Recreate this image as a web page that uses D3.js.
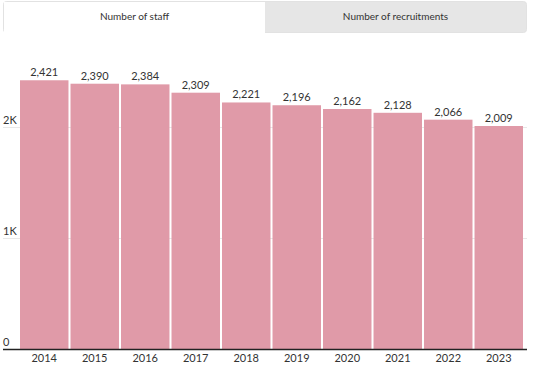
<!DOCTYPE html>
<html>
<head>
<meta charset="utf-8">
<script src="https://cdn.jsdelivr.net/npm/d3@7"></script>
<style>
  body { margin: 0; background: #fff; font-family: Lato, "Open Sans", sans-serif; }
  #chart { width: 535px; height: 371px; position: relative; }
</style>
</head>
<body>
<div id="chart"></div>
<script>
const years = [2014, 2015, 2016, 2017, 2018, 2019, 2020, 2021, 2022, 2023];
const staff = [2421, 2390, 2384, 2309, 2221, 2196, 2162, 2128, 2066, 2009];
const yTicks = [0, 1000, 2000];
const tabLabels = ["Number of staff", "Number of recruitments"];

const width = 535;
const height = 371;

const svg = d3
  .select("#chart")
  .append("svg")
  .attr("width", width)
  .attr("height", height);

// tabs
const tabX = d3.scaleBand().domain(tabLabels).range([4, 526]);
const tabs = svg.append("g").attr("class", "tabs");
tabs
  .append("rect")
  .attr("x", 3.5)
  .attr("y", 1.5)
  .attr("width", 523)
  .attr("height", 31)
  .attr("rx", 3)
  .attr("fill", "#e6e6e6")
  .attr("stroke", "#e2e2e2");
tabs
  .append("rect")
  .attr("x", tabX(tabLabels[0]))
  .attr("y", 2)
  .attr("width", tabX.bandwidth())
  .attr("height", 31)
  .attr("fill", "#fff");
tabs
  .selectAll("text")
  .data(tabLabels)
  .enter()
  .append("text")
  .attr("x", (d) => tabX(d) + tabX.bandwidth() / 2)
  .attr("y", 20)
  .attr("text-anchor", "middle")
  .attr("font-size", "10px")
  .attr("fill", "#333")
  .text((d) => d);

// scales
const xScale = d3.scaleBand().domain(years).range([20, 523]).paddingInner(0.04);
const yScale = d3.scaleLinear().domain([0, 1000]).range([349, 238]);

// grid
svg
  .append("g")
  .selectAll("line")
  .data(yTicks.slice(1))
  .enter()
  .append("line")
  .attr("x1", 3)
  .attr("x2", 527)
  .attr("y1", (d) => yScale(d) + 0.5)
  .attr("y2", (d) => yScale(d) + 0.5)
  .attr("stroke", "#e8e8e8");

// bars
svg
  .append("g")
  .selectAll("rect")
  .data(staff)
  .enter()
  .append("rect")
  .attr("x", (d, i) => xScale(years[i]))
  .attr("y", (d) => yScale(d))
  .attr("width", xScale.bandwidth())
  .attr("height", (d) => yScale(0) - yScale(d))
  .attr("fill", "#e09aa8");

// value labels
svg
  .append("g")
  .selectAll("text")
  .data(staff)
  .enter()
  .append("text")
  .attr("x", (d, i) => xScale(years[i]) + xScale.bandwidth() / 2)
  .attr("y", (d) => yScale(d) - 4)
  .attr("text-anchor", "middle")
  .attr("font-size", "11px")
  .attr("fill", "#333")
  .text((d) => d3.format(",")(d));

// y tick labels
svg
  .append("g")
  .selectAll("text")
  .data(yTicks)
  .enter()
  .append("text")
  .attr("x", 3)
  .attr("y", (d) => yScale(d) - 3)
  .attr("font-size", "11px")
  .attr("fill", "#333")
  .text((d) => (d === 0 ? "0" : d / 1000 + "K"));

// x axis
const xAxis = d3.axisBottom(xScale).tickSize(0).tickPadding(5);
const gx = svg
  .append("g")
  .attr("transform", "translate(0,349)")
  .call(xAxis);
gx.select(".domain").remove();
gx.selectAll("text")
  .attr("font-size", "11px")
  .attr("font-family", "Lato, 'Open Sans', sans-serif")
  .attr("fill", "#333");
svg
  .append("line")
  .attr("x1", 3)
  .attr("x2", 527)
  .attr("y1", 349.5)
  .attr("y2", 349.5)
  .attr("stroke", "#222")
  .attr("stroke-width", 1.5);
</script>
</body>
</html>
